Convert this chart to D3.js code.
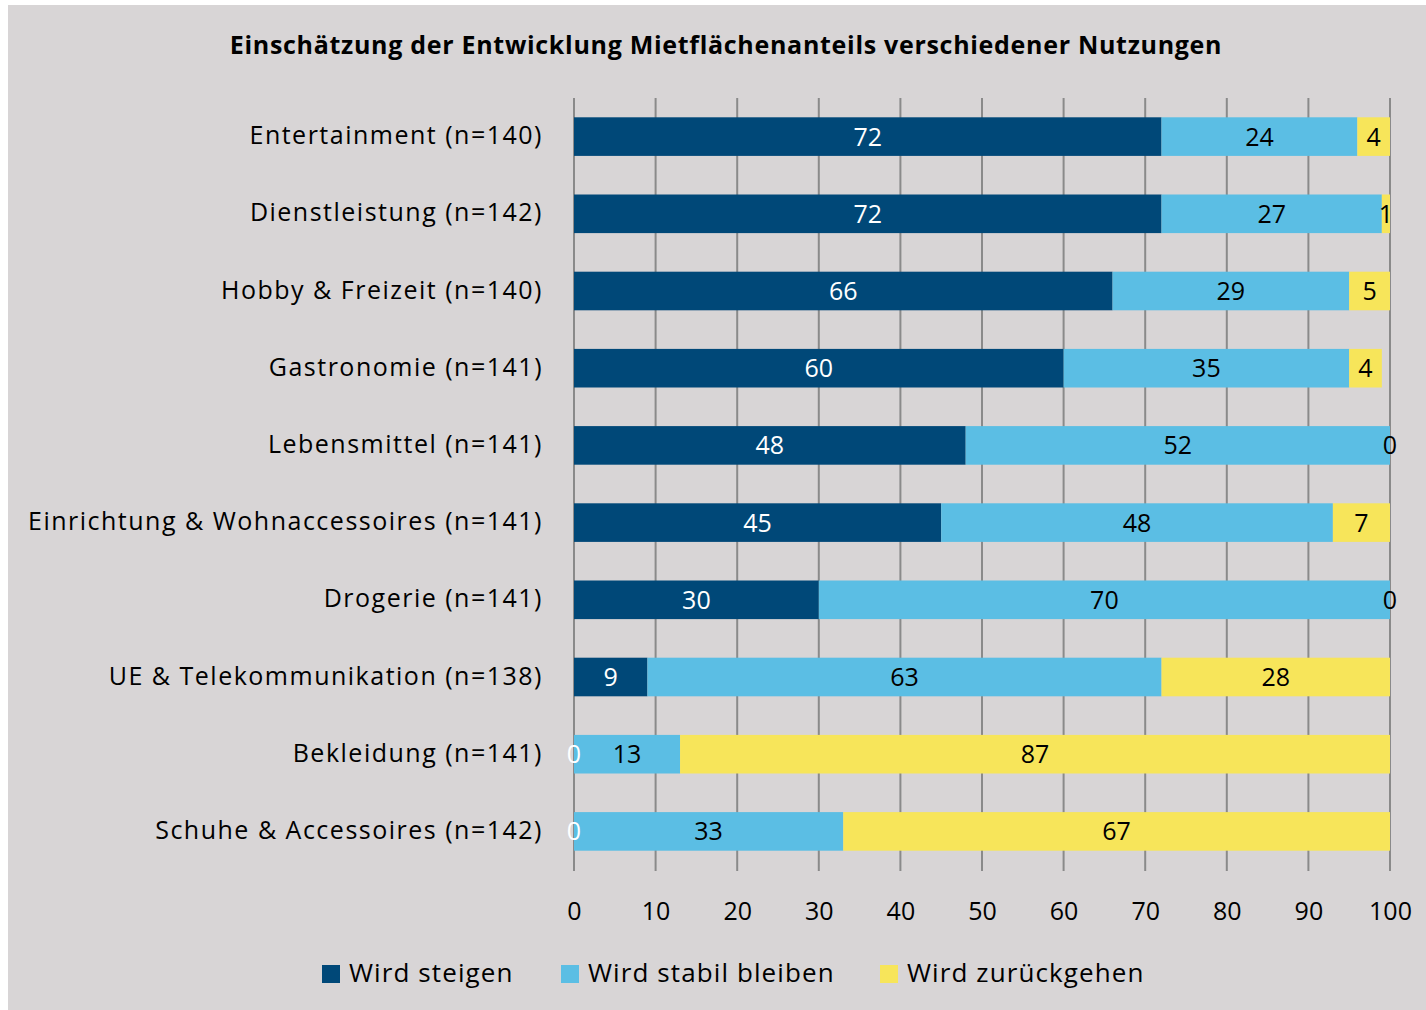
<!DOCTYPE html>
<html>
<head>
<meta charset="utf-8">
<script src="https://cdn.jsdelivr.net/npm/d3@7"></script>
<style>
  body { margin: 0; background: #ffffff; }
  svg { display: block; }
  text { font-family: "Open Sans", "Noto Sans", sans-serif; }
</style>
</head>
<body>
<svg id="chart" width="1426" height="1010"></svg>
<script>
// data
var categories = [
  "Entertainment (n=140)",
  "Dienstleistung (n=142)",
  "Hobby & Freizeit (n=140)",
  "Gastronomie (n=141)",
  "Lebensmittel (n=141)",
  "Einrichtung & Wohnaccessoires (n=141)",
  "Drogerie (n=141)",
  "UE & Telekommunikation (n=138)",
  "Bekleidung (n=141)",
  "Schuhe & Accessoires (n=142)"
];
var steigen  = [72, 72, 66, 60, 48, 45, 30,  9,  0,  0];
var stabil   = [24, 27, 29, 35, 52, 48, 70, 63, 13, 33];
var zurueck  = [ 4,  1,  5,  4,  0,  7,  0, 28, 87, 67];
var seriesNames = ["Wird steigen", "Wird stabil bleiben", "Wird zurückgehen"];
var colors = ["#004878", "#5bbee4", "#f7e55a"];
var labelColors = ["#ffffff", "#000000", "#000000"];
var ticks = [0, 10, 20, 30, 40, 50, 60, 70, 80, 90, 100];

var svg = d3.select("#chart");

// background panel
svg.append("rect")
  .attr("x", 8).attr("y", 5)
  .attr("width", 1418).attr("height", 1005)
  .attr("fill", "#d8d5d6");

svg.append("text")
  .attr("x", 726).attr("y", 54)
  .attr("text-anchor", "middle")
  .attr("font-size", 25)
  .attr("font-weight", "bold")
  .attr("letter-spacing", 0.7)
  .text("Einschätzung der Entwicklung Mietflächenanteils verschiedener Nutzungen");

var x = d3.scaleLinear().domain([0, 100]).range([574, 1390]);
var y = d3.scaleBand().domain(categories).range([98, 870]).paddingInner(0.5).paddingOuter(0.25);

// gridlines
svg.append("g").selectAll("line")
  .data(ticks)
  .enter().append("line")
  .attr("x1", function(d){ return x(d); })
  .attr("x2", function(d){ return x(d); })
  .attr("y1", 98).attr("y2", 871)
  .attr("stroke", "#8a8a8a")
  .attr("stroke-width", 2);

// stacked
var rows = categories.map(function(c, i){
  return { cat: c, s0: steigen[i], s1: stabil[i], s2: zurueck[i] };
});
var stack = d3.stack().keys(["s0", "s1", "s2"]);
var layers = stack(rows);

var g = svg.append("g");
layers.forEach(function(layer, k){
  g.append("g").selectAll("rect")
    .data(layer)
    .enter().append("rect")
    .attr("x", function(d){ return x(d[0]); })
    .attr("y", function(d){ return y(d.data.cat); })
    .attr("width", function(d){ return x(d[1]) - x(d[0]); })
    .attr("height", y.bandwidth())
    .attr("fill", colors[k]);
});

layers.forEach(function(layer, k){
  g.append("g").selectAll("text")
    .data(layer)
    .enter().append("text")
    .attr("x", function(d){ return x((d[0] + d[1]) / 2); })
    .attr("y", function(d){ return y(d.data.cat) + y.bandwidth() / 2; })
    .attr("dy", "0.36em")
    .attr("text-anchor", "middle")
    .attr("font-size", 25)
    .attr("fill", labelColors[k])
    .text(function(d){ return d[1] - d[0]; });
});

// category labels
svg.append("g").selectAll("text")
  .data(categories)
  .enter().append("text")
  .attr("x", 543)
  .attr("y", function(d){ return y(d) + y.bandwidth() / 2; })
  .attr("dy", "0.3em")
  .attr("text-anchor", "end")
  .attr("font-size", 25)
  .attr("letter-spacing", 1.5)
  .attr("fill", "#000")
  .text(function(d){ return d; });

// x axis
var xAxis = d3.axisBottom(x).tickValues(ticks).tickSize(0).tickPadding(0);
var ax = svg.append("g").attr("transform", "translate(0,920)").call(xAxis);
ax.select(".domain").remove();
ax.selectAll("text")
  .attr("font-size", 25)
  .attr("fill", "#000")
  .attr("dy", 0)
  .style("font-family", "'Open Sans', 'Noto Sans', sans-serif");

// legend
var legendX = [322, 561, 880];
var lg = svg.append("g");
seriesNames.forEach(function(n, i){
  lg.append("rect")
    .attr("x", legendX[i]).attr("y", 965)
    .attr("width", 18).attr("height", 18)
    .attr("fill", colors[i]);
  lg.append("text")
    .attr("x", legendX[i] + 27).attr("y", 982)
    .attr("font-size", 26)
    .attr("letter-spacing", 1.1)
    .attr("fill", "#000")
    .text(n);
});
</script>
</body>
</html>
